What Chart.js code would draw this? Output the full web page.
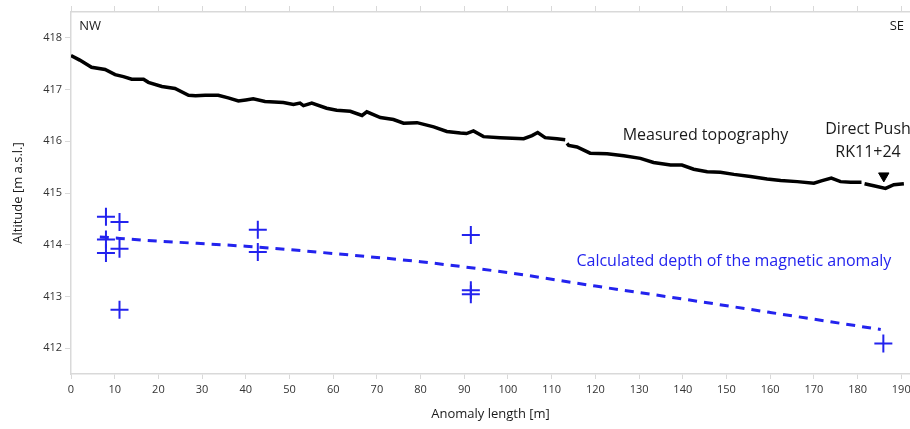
<!DOCTYPE html>
<html>
<head>
<meta charset="utf-8">
<script src="https://cdn.jsdelivr.net/npm/chart.js@4.4.1/dist/chart.umd.min.js"></script>
<style>
  html, body { margin: 0; padding: 0; background: #fff; }
  #clip { width: 910px; height: 429px; overflow: hidden; }
  /* a bit wider than the page so the last tick label may hang past the plot edge */
  #wrap { width: 921px; height: 429px; }
</style>
</head>
<body>
<div id="clip"><div id="wrap"><canvas id="profileChart"></canvas></div></div>
<script>
// measured topography (m along profile / m a.s.l.), null = gap in the record
const topoX = [0, 2, 4.7, 7.8, 10.1, 12, 13.9, 16.6, 17.7, 20.8, 23.8, 26.9, 28.5, 30.7, 33.7, 36, 38.3, 40, 41.7, 44.4,
  46.5, 48.6, 50.9, 52.4, 53.2, 55.1, 58.5, 60.8, 63.9, 66.6, 67.7, 70.8, 73.8, 76.1, 79.2, 83, 86, 89.1, 90.5, 92.1,
  94.4, 98.2, 101, 103.6, 105.5, 106.8, 108.5, 111.2, 113.1, 113.3, 113.5, 113.9, 115.8, 118.8, 122.7, 126.5, 130.3,
  133.3, 137.2, 139.8, 142.5, 145.6, 148.6, 151.7, 155.5, 159.3, 162.4, 166.2, 170, 171.9, 174, 176.1, 178.4, 180.9,
  181.2, 181.6, 183.7, 186.4, 188.3, 190.6];
const topoY = [417.66, 417.57, 417.43, 417.39, 417.29, 417.25, 417.20, 417.20, 417.14, 417.06, 417.02, 416.89, 416.88,
  416.89, 416.89, 416.84, 416.78, 416.80, 416.82, 416.77, 416.76, 416.75, 416.71, 416.74, 416.69, 416.74, 416.64,
  416.60, 416.58, 416.50, 416.57, 416.46, 416.42, 416.35, 416.36, 416.28, 416.19, 416.16, 416.15, 416.20, 416.09,
  416.07, 416.06, 416.05, 416.11, 416.17, 416.07, 416.05, 416.03, null, 415.96, 415.92, 415.89, 415.77, 415.76,
  415.72, 415.67, 415.59, 415.54, 415.54, 415.46, 415.41, 415.40, 415.36, 415.32, 415.27, 415.24, 415.22, 415.19,
  415.24, 415.29, 415.22, 415.21, 415.21, null, 415.18, 415.14, 415.09, 415.16, 415.18];

// calculated anomaly depths (crosses)
const anomX = [8, 11.1, 8, 8, 11.1, 11.1, 42.75, 42.75, 91.5, 91.5, 91.5, 185.9];
const anomY = [414.54, 414.44, 414.10, 413.84, 413.92, 412.74, 414.29, 413.86, 414.19, 413.12, 413.04, 412.09];

// trend of the calculated depth (dashed)
const trendX = [6.6, 20, 40, 60, 80, 100, 120, 140, 160, 185.3];
const trendY = [414.15, 414.07, 413.97, 413.83, 413.67, 413.46, 413.20, 412.95, 412.69, 412.36];

// direct push location
const pushX = [186];
const pushY = [415.33];

const xTicks = [0, 10, 20, 30, 40, 50, 60, 70, 80, 90, 100, 110, 120, 130, 140, 150, 160, 170, 180, 190];
const yTicks = [412, 413, 414, 415, 416, 417, 418];

const blue = '#2323ee';
const axisGrey = '#d9d9d9';
const labelFont = "'Open Sans', 'Noto Sans', sans-serif";

const toPoints = (xs, ys) => xs.map((x, i) => ({x: x, y: ys[i]}));

// text labels placed in data coordinates
const notes = [
  {text: 'NW', x: 4.4, y: 418.22, color: '#1a1a1a', size: 13},
  {text: 'SE', x: 189.0, y: 418.22, color: '#1a1a1a', size: 13},
  {text: 'Measured topography', x: 145.2, y: 416.11, color: '#1a1a1a', size: 16},
  {text: 'Direct Push', x: 182.4, y: 416.23, color: '#1a1a1a', size: 16},
  {text: 'RK11+24', x: 182.4, y: 415.79, color: '#1a1a1a', size: 16},
  {text: 'Calculated depth of the magnetic anomaly', x: 151.7, y: 413.68, color: blue, size: 16}
];

const notesPlugin = {
  id: 'notes',
  afterDatasetsDraw(chart) {
    const ctx = chart.ctx;
    const xs = chart.scales.x, ys = chart.scales.y;
    ctx.save();
    ctx.textAlign = 'center';
    ctx.textBaseline = 'middle';
    notes.forEach(n => {
      ctx.font = n.size + 'px ' + labelFont;
      ctx.fillStyle = n.color;
      ctx.fillText(n.text, xs.getPixelForValue(n.x), ys.getPixelForValue(n.y));
    });
    ctx.restore();
  }
};

new Chart(document.getElementById('profileChart'), {
  data: {
    datasets: [
      {
        type: 'line',
        label: 'Measured topography',
        data: toPoints(topoX, topoY),
        borderColor: '#000',
        borderWidth: 3.5,
        pointRadius: 0,
        spanGaps: false,
        tension: 0
      },
      {
        type: 'line',
        label: 'Depth trend',
        data: toPoints(trendX, trendY),
        borderColor: blue,
        borderWidth: 3,
        borderDash: [9, 7],
        pointRadius: 0,
        tension: 0.4,
        cubicInterpolationMode: 'monotone'
      },
      {
        type: 'scatter',
        label: 'Calculated depth',
        data: toPoints(anomX, anomY),
        pointStyle: 'cross',
        pointRadius: 9,
        borderColor: blue,
        borderWidth: 2
      },
      {
        type: 'scatter',
        label: 'Direct Push',
        data: toPoints(pushX, pushY),
        pointStyle: 'triangle',
        rotation: 180,
        pointRadius: 6,
        backgroundColor: '#000',
        borderColor: '#000',
        borderWidth: 1
      }
    ]
  },
  options: {
    responsive: true,
    maintainAspectRatio: false,
    animation: false,
    layout: {padding: {left: 0, right: 1, top: 0, bottom: 0}},
    plugins: {
      legend: {display: false},
      tooltip: {enabled: false}
    },
    scales: {
      x: {
        type: 'linear',
        position: 'bottom',
        min: 0,
        max: 192,
        afterBuildTicks: s => { s.ticks = xTicks.map(v => ({value: v})); },
        afterFit: s => { s.height = 55; },
        grid: {drawOnChartArea: false, color: axisGrey, tickLength: 5, lineWidth: 1},
        border: {color: axisGrey, width: 1.5},
        ticks: {color: '#333', font: {size: 11, family: labelFont}, padding: 4, maxRotation: 0},
        title: {display: true, text: 'Anomaly length [m]', color: '#1a1a1a',
          font: {size: 13, family: labelFont}, padding: {top: 4, bottom: 7}}
      },
      x2: {
        type: 'linear',
        position: 'top',
        min: 0,
        max: 192,
        afterBuildTicks: s => { s.ticks = xTicks.map(v => ({value: v})); },
        afterFit: s => { s.height = 12; },
        grid: {drawOnChartArea: false, color: axisGrey, tickLength: 6, lineWidth: 1},
        border: {color: axisGrey, width: 1.5},
        ticks: {display: false}
      },
      y: {
        type: 'linear',
        min: 411.5,
        max: 418.5,
        afterBuildTicks: s => { s.ticks = yTicks.map(v => ({value: v})); },
        afterFit: s => { s.width = 71; },
        grid: {drawOnChartArea: false, color: axisGrey, tickLength: 6, lineWidth: 1},
        border: {color: axisGrey, width: 1.5},
        ticks: {color: '#333', font: {size: 11, family: labelFont}, padding: 3},
        title: {display: true, text: 'Altitude [m a.s.l.]', color: '#1a1a1a',
          font: {size: 13, family: labelFont}, padding: {top: 10, bottom: 0}}
      }
    }
  },
  plugins: [notesPlugin]
});
</script>
</body>
</html>
